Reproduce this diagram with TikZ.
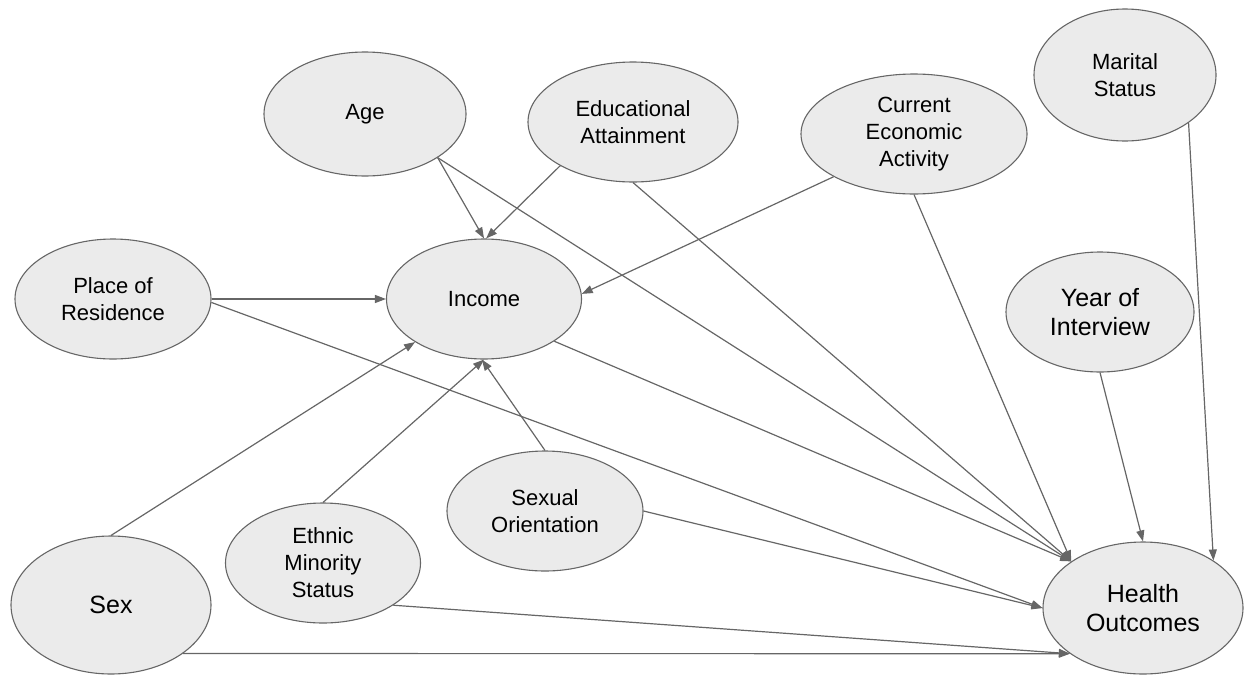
\documentclass[tikz,border=0pt]{standalone}
\usepackage{fontspec}
\setmainfont{Liberation Sans}
\usetikzlibrary{arrows.meta}
\usetikzlibrary{shapes.geometric}

\definecolor{linegray}{HTML}{666666}
\definecolor{fillgray}{HTML}{EBEBEB}

\begin{document}
\begin{tikzpicture} [x=1pt,y=-1pt,
  var/.style={ellipse,draw=linegray,fill=fillgray,line width=1.1pt,inner sep=0pt,align=center,font=\fontsize{22}{27}\selectfont},
  big/.style={font=\fontsize{25}{29}\selectfont},
  link/.style={linegray,line width=1.2pt,-{Triangle[length=11pt,width=8pt]}}]

\useasboundingbox (0,0) rectangle (1245,675);

\node[var,minimum width=202pt,minimum height=124pt] (age) at (365,114) {Age};
\node[var,minimum width=210pt,minimum height=120pt] (edu) at (633,122) {Educational\\Attainment};
\node[var,minimum width=226pt,minimum height=120pt] (econ) at (914,134) {Current\\Economic\\Activity};
\node[var,minimum width=182pt,minimum height=132pt] (marital) at (1125,75) {Marital\\Status};
\node[var,minimum width=196pt,minimum height=120pt] (residence) at (113,299) {Place of\\Residence};
\node[var,minimum width=195pt,minimum height=120pt] (income) at (484,299) {Income};
\node[var,big,minimum width=188pt,minimum height=120pt] (year) at (1100,312) {Year of\\Interview};
\node[var,minimum width=196pt,minimum height=120pt] (sexor) at (545,511) {Sexual\\Orientation};
\node[var,minimum width=195pt,minimum height=120pt] (ethnic) at (323,563) {Ethnic\\Minority\\Status};
\node[var,big,minimum width=200pt,minimum height=138pt] (sex) at (111,605) {Sex};
\node[var,big,minimum width=200pt,minimum height=132pt] (health) at (1143,608) {Health\\Outcomes};

\draw[link] (age.-31) -- (income.90);
\draw[link] (edu.211) -- (income.88);
\draw[link] (residence.0) -- (income.180);
\draw[link] (econ.208) -- (income.3);
\draw[link] (sex.90) -- (income.212);
\draw[link] (ethnic.90) -- (income.270);
\draw[link] (sexor.90) -- (income.268);

\draw[link] (age.-31) -- (health.147);
\draw[link] (edu.270) -- (health.147);
\draw[link] (econ.270) -- (health.147);
\draw[link] (income.-31) -- (health.147);
\draw[link] (residence.-2) -- (health.180);
\draw[link] (sexor.0) -- (health.180);
\draw[link] (ethnic.-31) -- (health.212);
\draw[link] (sex.-34) -- (health.212);
\draw[link] (year.270) -- (health.90);
\draw[link] (marital.-37) -- (health.34);

\end{tikzpicture}
\end{document}
